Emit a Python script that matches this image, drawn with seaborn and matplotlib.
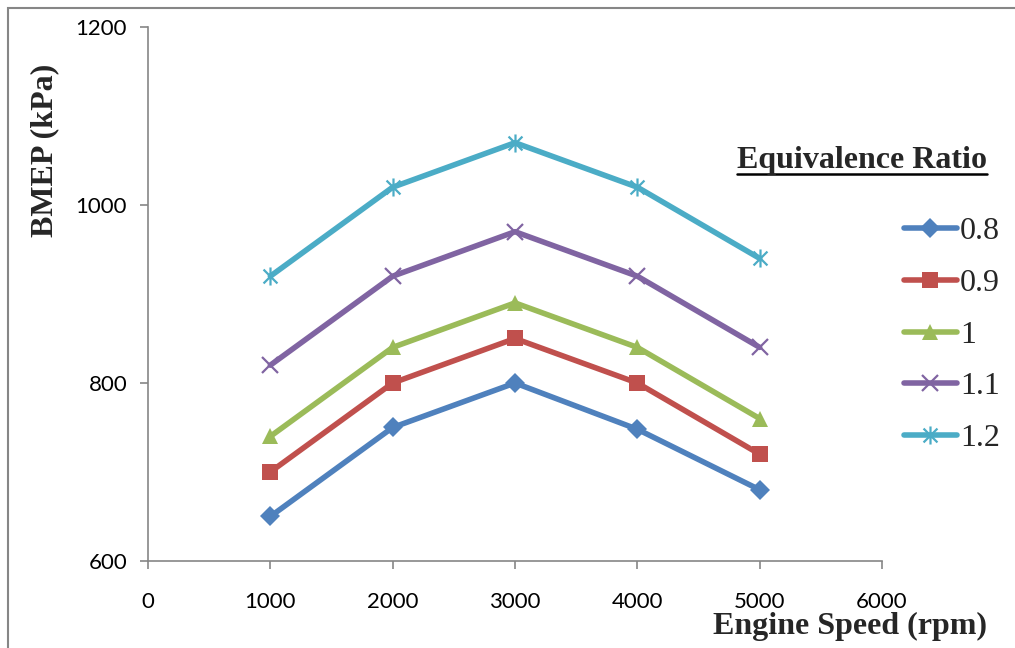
"""BMEP vs engine speed for several equivalence ratios."""
import matplotlib
matplotlib.use("Agg")
import matplotlib.pyplot as plt
import numpy as np
import pandas as pd
import seaborn as sns
from matplotlib.lines import Line2D
from matplotlib.patches import Rectangle
from matplotlib.path import Path

# data
engine_speed = [1000, 2000, 3000, 4000, 5000]
ratio_labels = ["0.8", "0.9", "1", "1.1", "1.2"]
bmep_08 = [650, 750, 800, 748, 680]
bmep_09 = [700, 800, 850, 800, 720]
bmep_10 = [740, 840, 890, 840, 760]
bmep_11 = [820, 920, 970, 920, 840]
bmep_12 = [920, 1020, 1070, 1020, 940]

colors = ["#4F81BD", "#C0504D", "#9BBB59", "#8064A2", "#4BACC6"]

# excel style asterisk: an x plus a vertical bar
star = Path(
    [(-1, -1), (1, 1), (-1, 1), (1, -1), (0, -1.3), (0, 1.3)],
    [Path.MOVETO, Path.LINETO, Path.MOVETO, Path.LINETO, Path.MOVETO, Path.LINETO])
markers = ["D", "s", "^", "x", star]
marker_sizes = [10, 11, 12, 12, 13]
line_art = [False, False, False, True, True]

rows = []
for lab, vals in zip(ratio_labels,
                     [bmep_08, bmep_09, bmep_10, bmep_11, bmep_12]):
    for s, v in zip(engine_speed, vals):
        rows.append({"speed": s, "bmep": v, "ratio": lab})
df = pd.DataFrame(rows)

sns.set_style("white")
plt.rcParams["font.family"] = ["Lato", "DejaVu Sans"]

fig = plt.figure(figsize=(10.15, 6.48), dpi=100)
ax = fig.add_axes([0.1458, 0.1343, 0.869 - 0.1458, 0.9583 - 0.1343])

# one call per series since seaborn refuses to mix filled and line markers
for lab, c, mk, ms, la in zip(ratio_labels, colors, markers, marker_sizes, line_art):
    sub = df[df["ratio"] == lab]
    sns.lineplot(data=sub, x="speed", y="bmep", color=c, marker=mk,
                 markersize=ms, markeredgecolor=c, markerfacecolor=c,
                 markeredgewidth=1.6 if la else 0, linewidth=4, ax=ax)

ax.set_xlim(0, 6000)
ax.set_ylim(600, 1200)
ax.set_xticks(np.arange(0, 6001, 1000))
ax.set_yticks([600, 800, 1000, 1200])
ax.set_xlabel("")
ax.set_ylabel("")
for side in ("top", "right"):
    ax.spines[side].set_visible(False)
for side in ("left", "bottom"):
    ax.spines[side].set_color("#868686")
    ax.spines[side].set_linewidth(1.2)
ax.tick_params(axis="both", which="both", direction="out", length=6,
               width=1.2, color="#868686", labelsize=16, labelcolor="black",
               bottom=True, left=True)
ax.tick_params(axis="x", pad=16)
ax.tick_params(axis="y", pad=9)
ax.patch.set_alpha(0)

serif = ["Liberation Serif", "DejaVu Serif"]
fig.text(0.044, 0.768, "BMEP (kPa)", rotation=90, ha="center", va="center",
         fontsize=23, fontweight="bold", family=serif)
fig.text(0.837, 0.034, "Engine Speed (rpm)", ha="center", va="center",
         fontsize=23, fontweight="bold", family=serif)

# legend built by hand to mimic the excel layout
handles = [Line2D([], [], color=c, lw=4, marker=m, markersize=ms,
                  markeredgecolor=c, markerfacecolor=c,
                  markeredgewidth=1.6 if la else 0)
           for c, m, ms, la in zip(colors, markers, marker_sizes, line_art)]
leg = fig.legend(handles, ratio_labels, loc="upper left",
                 bbox_to_anchor=(0.878, 0.685), frameon=False,
                 prop={"family": serif, "size": 23}, handlelength=1.65,
                 handletextpad=0.1, labelspacing=0.7, borderaxespad=0)

title = fig.text(0.849, 0.752, "Equivalence Ratio", ha="center", va="center",
                 fontsize=23, fontweight="bold", family=serif)
fig.canvas.draw()
bb = title.get_window_extent().transformed(fig.transFigure.inverted())
fig.add_artist(Line2D([bb.x0, bb.x1], [bb.y0 + 0.002, bb.y0 + 0.002],
                      color="black", lw=1.8, transform=fig.transFigure))

# outer chart border
fig.add_artist(Rectangle((0.008, -0.05), 1.1, 1.037, transform=fig.transFigure,
                         fill=False, edgecolor="#868686", lw=1.5))

fig.savefig("out.png", dpi=100)
